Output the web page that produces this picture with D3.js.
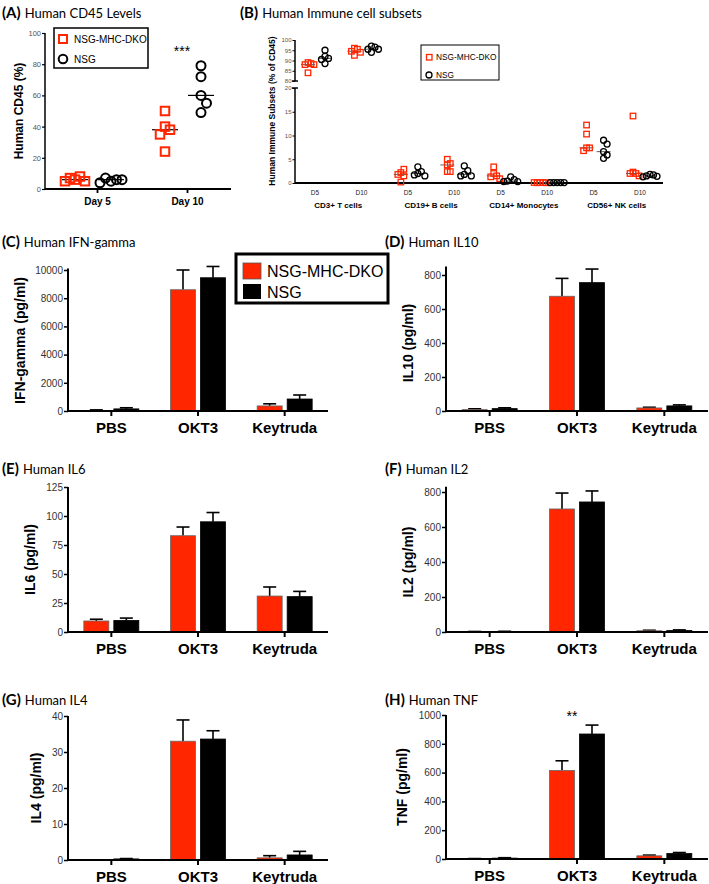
<!DOCTYPE html>
<html><head><meta charset="utf-8">
<script src="https://cdn.jsdelivr.net/npm/d3@7"></script>
<style>
body{margin:0;background:#fff}
svg{display:block}
text{font-family:"Liberation Sans",Arial,sans-serif}
.ttl{font-family:Lato,"Open Sans",sans-serif}
</style>
</head><body>
<svg id="fig" width="709" height="884"></svg>
<script>
// ---------------- DATA ----------------
const seriesNames = ["NSG-MHC-DKO", "NSG"];

// Panel A: Human CD45 (%)
const aDays = ["Day 5", "Day 10"];
const aDKO = [[6, 8, 7, 5, 5], [50, 40, 38, 35, 24]];
const aNSG = [[5, 6, 7, 6, 4], [79, 72, 60, 55, 49]];
const aTicks = [0, 20, 40, 60, 80, 100];

// Panel B: immune subsets (% of CD45)
const bCategories = ["CD3+ T cells", "CD19+ B cells", "CD14+ Monocytes", "CD56+ NK cells"];
const bTimepoints = ["D5", "D10"];
const bDKO = [
  [89, 88.5, 88, 88, 84],
  [96, 95.5, 94.5, 94, 92.5],
  [2.2, 2.9, 1.5, 0.2, 1.8],
  [5.0, 4.1, 3.8, 2.4, 2.4],
  [3.4, 2.0, 1.5, 1.3, 0.9],
  [0.1, 0.1, 0.05, 0.05, 0.1],
  [12.2, 10.3, 7.4, 7.4, 6.8],
  [14.1, 2.3, 2.0, 2.0, 1.5]
];
const bNSG = [
  [95, 92, 91, 90.5, 88.5],
  [97, 96.5, 95.5, 95.5, 94],
  [3.4, 2.4, 2.0, 1.7, 1.5],
  [3.6, 2.6, 1.8, 1.5, 1.5],
  [1.3, 0.7, 0.4, 0.3, 0.3],
  [0.1, 0.1, 0.1, 0.1, 0.1],
  [9.0, 8.2, 6.6, 5.9, 5.2],
  [1.8, 1.7, 1.5, 1.4, 1.3]
];
const bTicksUpper = [80, 85, 90, 95, 100];
const bTicksLower = [0, 5, 10, 15, 20];

// Cytokine panels (pg/ml), mean and upper SEM
const treatments = ["PBS", "OKT3", "Keytruda"];
const ifnDKO = [40, 8600, 360],  ifnDKOErr = [40, 1400, 150];
const ifnNSG = [150, 9450, 850], ifnNSGErr = [80, 800, 285];
const ifnTicks = [0, 2000, 4000, 6000, 8000, 10000];

const il10DKO = [8, 675, 18],  il10DKOErr = [5, 105, 4];
const il10NSG = [14, 755, 30], il10NSGErr = [5, 80, 6];
const il10Ticks = [0, 200, 400, 600, 800];

const il6DKO = [9.5, 83, 31],  il6DKOErr = [1.5, 7.5, 7.8];
const il6NSG = [10, 95, 30.5], il6NSGErr = [2, 8, 4.5];
const il6Ticks = [0, 25, 50, 75, 100, 125];

const il2DKO = [2, 703, 7], il2DKOErr = [1, 91, 3];
const il2NSG = [3, 743, 9], il2NSGErr = [1, 63, 3];
const il2Ticks = [0, 200, 400, 600, 800];

const il4DKO = [0, 33, 0.6],   il4DKOErr = [0, 5.9, 0.6];
const il4NSG = [0.3, 33.6, 1.4], il4NSGErr = [0.1, 2.3, 1.0];
const il4Ticks = [0, 10, 20, 30, 40];

const tnfDKO = [2, 615, 22], tnfDKOErr = [1, 67, 5];
const tnfNSG = [6, 868, 38], tnfNSGErr = [3, 62, 7];
const tnfTicks = [0, 200, 400, 600, 800, 1000];

// ---------------- STYLE ----------------
const RED = "#ff2600";
const svg = d3.select("#fig");

function panelTitle(x, y, tag, name) {
  const t = svg.append("text").attr("class", "ttl").attr("x", x).attr("y", y)
    .attr("font-size", 15).attr("font-weight", "bold").text(tag);
  const w = t.node().getComputedTextLength();
  svg.append("text").attr("class", "ttl").attr("x", x + w + 4).attr("y", y)
    .attr("font-size", 13).text(name);
}

function styleAxis(g, sw, fs, col) {
  g.select(".domain").remove();
  g.selectAll(".tick line").attr("stroke", "#000").attr("stroke-width", sw);
  g.selectAll(".tick text").attr("font-size", fs).attr("fill", col || "#333")
    .attr("font-family", "Liberation Sans, Arial, sans-serif");
}

function swarmOffsets(pys, size, step) {
  const placed = [], off = [];
  pys.forEach((py, i) => {
    for (let k = 0; k < 40; k++) {
      const c = k === 0 ? 0 : (k % 2 ? 1 : -1) * Math.ceil(k / 2) * step;
      if (placed.every(p => Math.abs(p.y - py) >= size || Math.abs(p.x - c) >= step * 0.99)) {
        off[i] = c; placed.push({x: c, y: py}); break;
      }
    }
  });
  return off;
}

function drawSquares(g, cx, pys, size, sw, step) {
  const off = swarmOffsets(pys, size, step);
  pys.forEach((py, i) => {
    g.append("rect").attr("x", cx + off[i] - size / 2).attr("y", py - size / 2)
      .attr("width", size).attr("height", size)
      .attr("fill", "none").attr("stroke", RED).attr("stroke-width", sw);
  });
}
function drawCircles(g, cx, pys, size, sw, step) {
  const off = swarmOffsets(pys, size, step);
  pys.forEach((py, i) => {
    g.append("circle").attr("cx", cx + off[i]).attr("cy", py).attr("r", size / 2)
      .attr("fill", "none").attr("stroke", "#000").attr("stroke-width", sw);
  });
}

// ---------------- PANEL A ----------------
(function () {
  const g = svg.append("g");
  panelTitle(2, 18, "(A)", "Human CD45 Levels");
  const y = d3.scaleLinear().domain([0, 100]).range([189, 33]);
  const x = d3.scalePoint().domain(aDays).range([52, 232]).padding(0.5);
  // axes
  g.append("line").attr("x1", 45).attr("x2", 45).attr("y1", 33).attr("y2", 189)
    .attr("stroke", "#000").attr("stroke-width", 1.5);
  g.append("line").attr("x1", 45).attr("x2", 231).attr("y1", 189).attr("y2", 189)
    .attr("stroke", "#000").attr("stroke-width", 2);
  const ya = g.append("g").attr("transform", "translate(45,0)")
    .call(d3.axisLeft(y).tickValues(aTicks).tickSize(3).tickPadding(1).tickSizeOuter(0));
  styleAxis(ya, 1.2, 7.5, "#555");
  const xa = g.append("g").attr("transform", "translate(0,189)")
    .call(d3.axisBottom(x).tickSize(4).tickPadding(5).tickSizeOuter(0));
  styleAxis(xa, 1.8, 10, "#000");
  xa.selectAll(".tick text").attr("font-weight", "bold");
  g.append("text").attr("transform", "translate(23,111) rotate(-90)")
    .attr("text-anchor", "middle").attr("font-size", 12).attr("font-weight", "bold")
    .text("Human CD45 (%)");

  aDays.forEach((d, i) => {
    const cD = x(d) - 22, cN = x(d) + 14;
    [[aDKO[i], cD], [aNSG[i], cN]].forEach(([vals, c]) => {
      const med = d3.median(vals);
      g.append("line").attr("x1", c - 13).attr("x2", c + 13).attr("y1", y(med)).attr("y2", y(med))
        .attr("stroke", "#000").attr("stroke-width", 1.2);
    });
    drawSquares(g, cD, aDKO[i].map(y), 8.5, 2, 5);
    drawCircles(g, cN, aNSG[i].map(y), 9, 2, 5.5);
  });
  g.append("text").attr("x", 182).attr("y", 56).attr("text-anchor", "middle")
    .attr("font-size", 14).text("***");

  // legend
  g.append("rect").attr("x", 54).attr("y", 28).attr("width", 94).attr("height", 40)
    .attr("fill", "#fff").attr("stroke", "#000").attr("stroke-width", 1.5);
  g.append("rect").attr("x", 59).attr("y", 35).attr("width", 8).attr("height", 8)
    .attr("fill", "none").attr("stroke", RED).attr("stroke-width", 2);
  g.append("circle").attr("cx", 63).attr("cy", 59).attr("r", 4.3)
    .attr("fill", "none").attr("stroke", "#000").attr("stroke-width", 2);
  g.append("text").attr("x", 74).attr("y", 43).attr("font-size", 10).text(seriesNames[0]);
  g.append("text").attr("x", 74).attr("y", 63).attr("font-size", 10).text(seriesNames[1]);
})();

// ---------------- PANEL B ----------------
(function () {
  const g = svg.append("g");
  panelTitle(240, 18, "(B)", "Human Immune cell subsets");
  const yU = d3.scaleLinear().domain([80, 100]).range([81, 40]);
  const yL = d3.scaleLinear().domain([0, 20]).range([183, 88]);
  const y = v => (v >= 50 ? yU(v) : yL(v));
  const labels = [];
  bCategories.forEach(c => bTimepoints.forEach(t => labels.push(c + "|" + t)));
  const x = d3.scalePoint().domain(labels).range([315, 640]);

  g.append("line").attr("x1", 295).attr("x2", 295).attr("y1", 40).attr("y2", 81)
    .attr("stroke", "#000").attr("stroke-width", 1.5);
  g.append("line").attr("x1", 295).attr("x2", 295).attr("y1", 88).attr("y2", 183)
    .attr("stroke", "#000").attr("stroke-width", 1.5);
  [81, 88].forEach(yy => g.append("line").attr("x1", 292).attr("x2", 298)
    .attr("y1", yy).attr("y2", yy).attr("stroke", "#000").attr("stroke-width", 1.5));
  g.append("line").attr("x1", 295).attr("x2", 663).attr("y1", 183).attr("y2", 183)
    .attr("stroke", "#000").attr("stroke-width", 2);
  const au = g.append("g").attr("transform", "translate(295,0)")
    .call(d3.axisLeft(yU).tickValues(bTicksUpper).tickSize(2.5).tickPadding(1));
  styleAxis(au, 1, 6, "#555");
  const al = g.append("g").attr("transform", "translate(295,0)")
    .call(d3.axisLeft(yL).tickValues(bTicksLower).tickSize(2.5).tickPadding(1));
  styleAxis(al, 1, 6, "#555");

  labels.forEach((l, i) => {
    g.append("text").attr("x", x(l)).attr("y", 195).attr("text-anchor", "middle")
      .attr("font-size", 6.5).attr("fill", "#222").text(l.split("|")[1]);
  });
  bCategories.forEach((c, i) => {
    const cx = (x(c + "|D5") + x(c + "|D10")) / 2;
    g.append("text").attr("x", cx).attr("y", 208).attr("text-anchor", "middle")
      .attr("font-size", 8).attr("font-weight", "bold").text(c);
  });
  g.append("text").attr("transform", "translate(275,111) rotate(-90)")
    .attr("text-anchor", "middle").attr("font-size", 8.5).attr("font-weight", "bold")
    .text("Human Immune Subsets (% of CD45)");

  labels.forEach((l, i) => {
    const cD = x(l) - 7, cN = x(l) + 10;
    [[bDKO[i], cD], [bNSG[i], cN]].forEach(([vals, c]) => {
      const m = y(d3.median(vals));
      g.append("line").attr("x1", c - 7).attr("x2", c + 7).attr("y1", m).attr("y2", m)
        .attr("stroke", "#333").attr("stroke-width", 0.8);
    });
    drawSquares(g, cD, bDKO[i].map(y), 5.5, 1.3, 3);
    drawCircles(g, cN, bNSG[i].map(y), 6, 1.3, 3.5);
  });

  g.append("rect").attr("x", 421).attr("y", 45).attr("width", 78).attr("height", 35)
    .attr("fill", "#fff").attr("stroke", "#000").attr("stroke-width", 1);
  g.append("rect").attr("x", 426.5).attr("y", 54.5).attr("width", 5.5).attr("height", 5.5)
    .attr("fill", "none").attr("stroke", RED).attr("stroke-width", 1.3);
  g.append("circle").attr("cx", 429).attr("cy", 75).attr("r", 3)
    .attr("fill", "none").attr("stroke", "#000").attr("stroke-width", 1.3);
  g.append("text").attr("x", 436).attr("y", 60).attr("font-size", 8.3).text(seriesNames[0]);
  g.append("text").attr("x", 436).attr("y", 78).attr("font-size", 8.3).text(seriesNames[1]);
})();

// ---------------- BAR PANELS ----------------
function barPanel(L, dko, dkoErr, nsg, nsgErr, ticks, axisMax, tag, name, ytitle) {
  const g = svg.append("g");
  panelTitle(L.tx, L.ty, tag, name);
  const top = ticks[ticks.length - 1];
  const y = d3.scaleLinear().domain([0, top]).range([L.y0, L.yt]);
  const x = d3.scaleBand().domain(treatments).range([L.x0, L.x1]);
  const bw = 25;
  const series = [
    {vals: dko, errs: dkoErr, fill: RED, stroke: "#666", dx: -2.5 - bw},
    {vals: nsg, errs: nsgErr, fill: "#000", stroke: "#000", dx: 2.5}
  ];
  series.forEach(s => {
    treatments.forEach((t, i) => {
      const bx = x(t) + x.bandwidth() / 2 + s.dx;
      const cx = bx + bw / 2;
      const yv = y(s.vals[i]), ye = y(s.vals[i] + s.errs[i]);
      g.append("line").attr("x1", cx).attr("x2", cx).attr("y1", yv).attr("y2", ye)
        .attr("stroke", "#000").attr("stroke-width", 1.6);
      g.append("line").attr("x1", cx - 6.5).attr("x2", cx + 6.5).attr("y1", ye).attr("y2", ye)
        .attr("stroke", "#000").attr("stroke-width", 1.6);
      g.append("rect").attr("x", bx).attr("y", yv).attr("width", bw)
        .attr("height", Math.max(0, L.y0 - yv))
        .attr("fill", s.fill).attr("stroke", s.stroke).attr("stroke-width", 0.8);
    });
  });
  g.append("line").attr("x1", L.x0).attr("x2", L.x0).attr("y1", L.y0).attr("y2", y(axisMax))
    .attr("stroke", "#000").attr("stroke-width", 2);
  g.append("line").attr("x1", L.x0 - 1).attr("x2", L.x1).attr("y1", L.y0).attr("y2", L.y0)
    .attr("stroke", "#000").attr("stroke-width", 2.2);
  const ya = g.append("g").attr("transform", `translate(${L.x0},0)`)
    .call(d3.axisLeft(y).tickValues(ticks).tickFormat(d3.format("d")).tickSize(4).tickPadding(1));
  styleAxis(ya, 1.5, 10, "#333");
  const xa = g.append("g").attr("transform", `translate(0,${L.y0})`)
    .call(d3.axisBottom(x).tickSize(5).tickPadding(6));
  styleAxis(xa, 2, 15, "#000");
  xa.selectAll(".tick text").attr("font-weight", "bold");
  g.append("text").attr("transform", `translate(${L.ytx},${(L.y0 + L.yt) / 2}) rotate(-90)`)
    .attr("text-anchor", "middle").attr("font-size", 14).attr("font-weight", "bold")
    .text(ytitle);
  return {g, x, y};
}

const C = barPanel({x0: 68, x1: 328, y0: 411, yt: 270, tx: 2, ty: 247, ytx: 25},
  ifnDKO, ifnDKOErr, ifnNSG, ifnNSGErr, ifnTicks, 10100, "(C)", "Human IFN-gamma", "IFN-gamma (pg/ml)");
barPanel({x0: 446, x1: 708, y0: 411, yt: 275, tx: 385, ty: 247, ytx: 413},
  il10DKO, il10DKOErr, il10NSG, il10NSGErr, il10Ticks, 850, "(D)", "Human IL10", "IL10 (pg/ml)");
barPanel({x0: 68, x1: 328, y0: 632, yt: 487, tx: 2, ty: 474, ytx: 35},
  il6DKO, il6DKOErr, il6NSG, il6NSGErr, il6Ticks, 125, "(E)", "Human IL6", "IL6 (pg/ml)");
barPanel({x0: 446, x1: 708, y0: 632, yt: 492, tx: 385, ty: 474, ytx: 413},
  il2DKO, il2DKOErr, il2NSG, il2NSGErr, il2Ticks, 830, "(F)", "Human IL2", "IL2 (pg/ml)");
barPanel({x0: 68, x1: 328, y0: 860, yt: 716, tx: 2, ty: 705, ytx: 41},
  il4DKO, il4DKOErr, il4NSG, il4NSGErr, il4Ticks, 40, "(G)", "Human IL4", "IL4 (pg/ml)");
const H = barPanel({x0: 446, x1: 708, y0: 859, yt: 715, tx: 385, ty: 705, ytx: 407},
  tnfDKO, tnfDKOErr, tnfNSG, tnfNSGErr, tnfTicks, 1000, "(H)", "Human TNF", "TNF (pg/ml)");
H.g.append("text").attr("x", H.x("OKT3") + H.x.bandwidth() / 2 - 5).attr("y", 721)
  .attr("text-anchor", "middle").attr("font-size", 14).text("**");

// Legend in panel C
(function () {
  const g = svg.append("g");
  g.append("rect").attr("x", 236).attr("y", 254).attr("width", 152).attr("height", 49)
    .attr("fill", "#fff").attr("stroke", "#000").attr("stroke-width", 3);
  g.append("rect").attr("x", 243).attr("y", 263).attr("width", 18).attr("height", 16)
    .attr("fill", RED).attr("stroke", "#555").attr("stroke-width", 0.8);
  g.append("rect").attr("x", 243).attr("y", 284).attr("width", 18).attr("height", 15)
    .attr("fill", "#000");
  g.append("text").attr("x", 267).attr("y", 277).attr("font-size", 16).text(seriesNames[0]);
  g.append("text").attr("x", 267).attr("y", 298).attr("font-size", 16).text(seriesNames[1]);
})();
</script>
</body></html>
